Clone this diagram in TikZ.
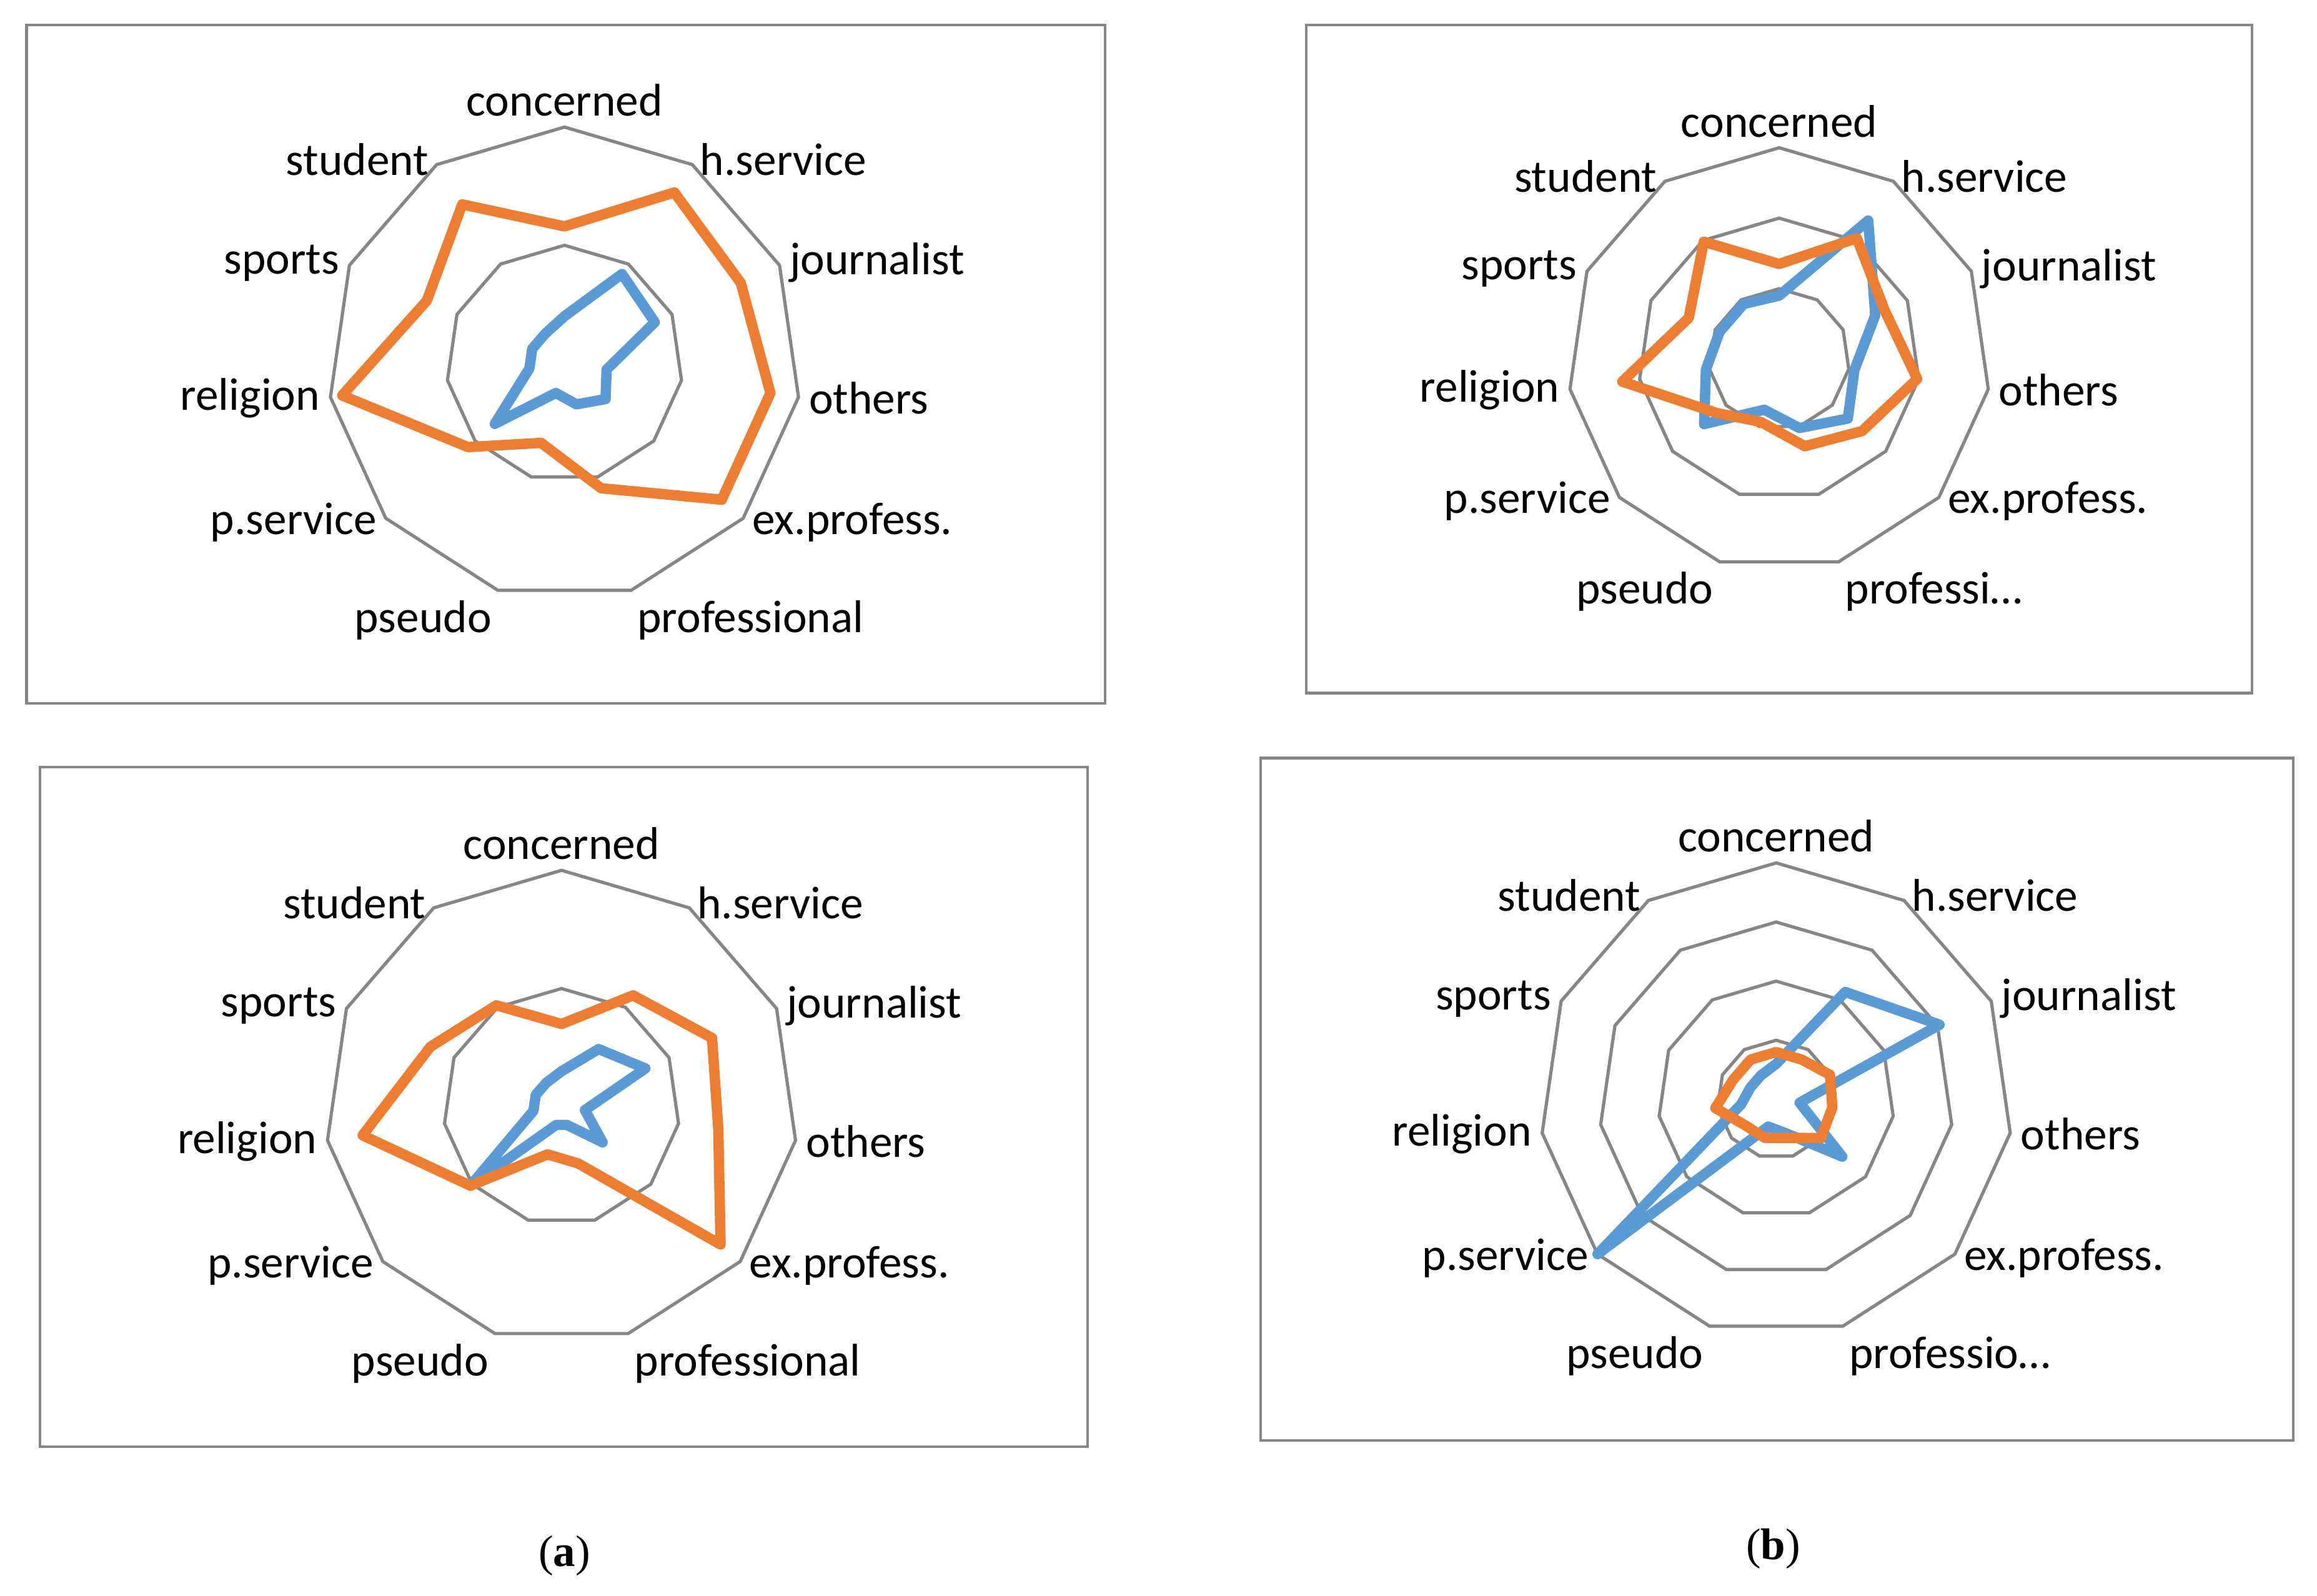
\documentclass[tikz,border=0pt]{standalone}
\usepackage{fontspec}
\setmainfont{Carlito}
\newfontfamily\capfont{Liberation Serif}
\definecolor{sorange}{HTML}{ED7D31}
\definecolor{sblue}{HTML}{5B9BD5}
\definecolor{sgrid}{HTML}{868686}
\tikzset{
  ring/.style={draw=sgrid,line width=2.2pt},
  frame/.style={draw=sgrid,line width=1.8pt},
  ser/.style={line width=7pt,line join=round},
  lab/.style={inner sep=3pt,font=\fontsize{31}{34}\selectfont},
}
\newcommand\radar[8]{%
\begin{scope}[shift={(#1,#2)},yscale=-1]
\foreach \f in {#4}{\draw[ring] (90:\f*#3) \foreach \k in {1,...,10}{-- ({90-\k*360/11}:\f*#3)} -- cycle;}
\foreach \v [count=\k from 0] in {#5}{\coordinate (#8b\k) at ({90-\k*360/11}:\v*#3);}
\foreach \v [count=\k from 0] in {#6}{\coordinate (#8o\k) at ({90-\k*360/11}:\v*#3);}
\draw[ser,sblue] (#8b0)--(#8b1)--(#8b2)--(#8b3)--(#8b4)--(#8b5)--(#8b6)--(#8b7)--(#8b8)--(#8b9)--(#8b10)--cycle;
\draw[ser,sorange] (#8o0)--(#8o1)--(#8o2)--(#8o3)--(#8o4)--(#8o5)--(#8o6)--(#8o7)--(#8o8)--(#8o9)--(#8o10)--cycle;
\foreach \t/\a [count=\k from 0] in {#7}{\node[lab,anchor=\a] (#8l\k) at ({90-\k*360/11}:#3+4) {\t};}
\end{scope}}
\begin{document}
\begin{tikzpicture}[x=1pt,y=-1pt]
\useasboundingbox (0,0) rectangle (1568,1080);
\draw[frame] (18,17) rectangle (748,476);
\draw[frame] (884,17) rectangle (1524,469);
\draw[frame] (27,519) rectangle (736,979);
\draw[frame] (853,513) rectangle (1552,975);
\radar{382}{246}{160}{0.5,1}
 {0.2,0.45,0.42,0.18,0.23,0.18,0.13,0.39,0.15,0.15,0.15}
 {0.58,0.86,0.82,0.88,0.88,0.55,0.35,0.54,0.95,0.64,0.80}
 {concerned/south,h.service/west,journalist/west,others/west,ex.profess./west,professional/north west,pseudo/north east,p.service/east,religion/east,sports/east,student/east}{A}
\radar{1204}{243}{143}{0.333,0.667,1}
 {0.3,0.78,0.5,0.36,0.43,0.34,0.25,0.47,0.35,0.31,0.31}
 {0.45,0.68,0.55,0.66,0.52,0.43,0.31,0.39,0.75,0.47,0.66}
 {concerned/south,h.service/west,journalist/west,others/west,ex.profess./west,professi\ldots/north west,pseudo/north east,p.service/east,religion/east,sports/east,student/east}{B}
\radar{380}{749}{160}{0.5,1}
 {0.15,0.29,0.39,0.1,0.23,0.08,0.08,0.51,0.12,0.12,0.12}
 {0.35,0.56,0.70,0.67,0.89,0.25,0.21,0.51,0.85,0.61,0.51}
 {concerned/south,h.service/west,journalist/west,others/west,ex.profess./west,professional/north west,pseudo/north east,p.service/east,religion/east,sports/east,student/east}{C}
\radar{1202}{744}{160}{0.25,0.5,0.75,1}
 {0.15,0.54,0.76,0.1,0.37,0.15,0.12,1.0,0.15,0.12,0.12}
 {0.2,0.2,0.25,0.24,0.25,0.17,0.17,0.17,0.26,0.2,0.2}
 {concerned/south,h.service/west,journalist/west,others/west,ex.profess./west,professio\ldots/north west,pseudo/north east,p.service/east,religion/east,sports/east,student/east}{D}
\node[font=\capfont\fontsize{30}{32}\selectfont] (capa) at (382,1053) {(\textbf{a})};
\node[font=\capfont\fontsize{30}{32}\selectfont] (capb) at (1200,1048) {(\textbf{b})};
\end{tikzpicture}
\end{document}
